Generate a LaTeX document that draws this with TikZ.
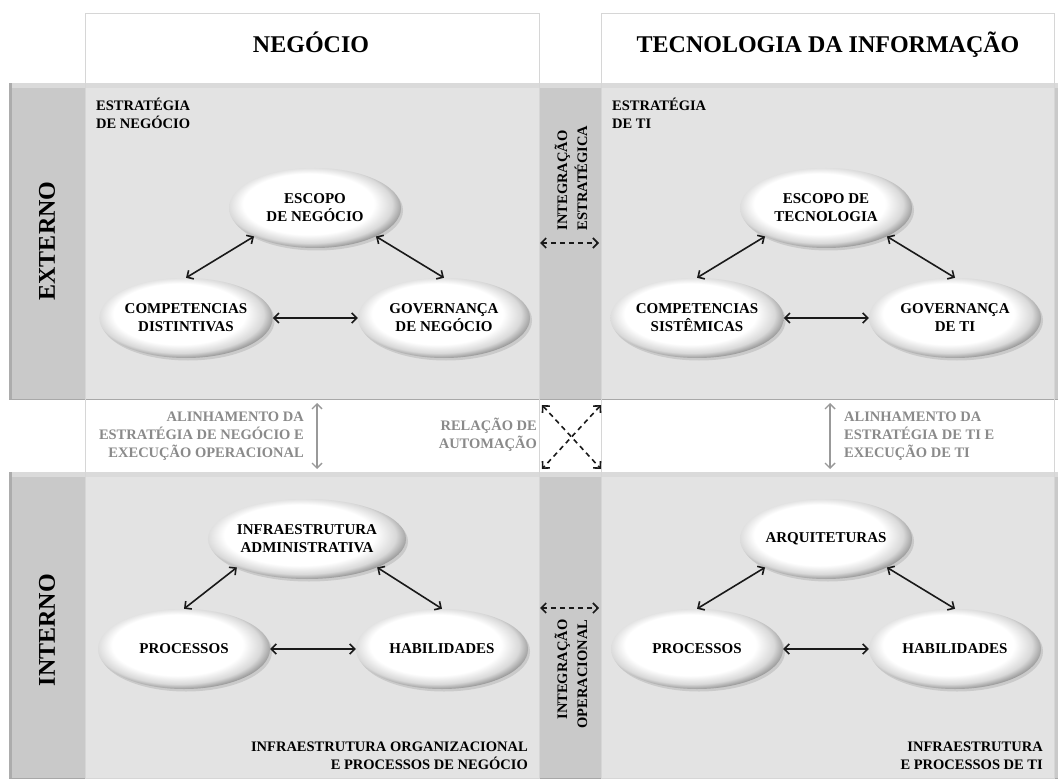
\documentclass[tikz,border=0pt]{standalone}
\usepackage{fontspec}
\setmainfont{Liberation Serif}
\usetikzlibrary{shapes.geometric,shadows,arrows.meta}
\definecolor{bandgray}{HTML}{C9C9C9}
\definecolor{bandtop}{HTML}{DADADA}
\definecolor{bandedge}{HTML}{ACACAC}
\definecolor{banddark}{HTML}{A8A8A8}
\definecolor{colgray}{HTML}{E3E3E3}
\definecolor{txtgray}{HTML}{8A8A8A}
\definecolor{linegray}{HTML}{D6D6D6}
\pgfdeclareradialshading{ellshade}{\pgfpoint{-3bp}{4bp}}{color(0bp)=(white); color(19bp)=(white); color(24bp)=(black!15); color(27bp)=(black!40); color(50bp)=(black!40)}
\begin{document}
\begin{tikzpicture}[x=1pt,y=-1pt,
  ell/.style={ellipse, minimum width=172pt, minimum height=80pt, inner sep=0pt, align=center,
    font=\fontsize{15}{18}\selectfont\bfseries, shading=ellshade,
    drop shadow={shadow xshift=2pt, shadow yshift=-2.5pt, opacity=0.25}},
  title/.style={font=\fontsize{24}{28}\selectfont\bfseries, inner sep=0pt, anchor=base},
  side/.style={font=\fontsize{24}{28}\selectfont\bfseries, inner sep=0pt, rotate=90},
  lbl/.style={font=\fontsize{14.5}{18}\selectfont\bfseries, inner sep=0pt},
  glbl/.style={lbl, text=txtgray},
  vlbl/.style={font=\fontsize{14.5}{20}\selectfont\bfseries, inner sep=0pt, rotate=90},
  dbl/.style={{Straight Barb[length=5pt,width=10pt]}-{Straight Barb[length=5pt,width=10pt]}, line width=1.6pt, draw=black!90},
  dbldash/.style={dbl, dash pattern=on 5pt off 4pt},
  gdbl/.style={dbl, draw=gray!80, line width=1.4pt}
]
\useasboundingbox (0,0) rectangle (1059,783);
\fill[white] (0,0) rectangle (1059,783);
% bands
\foreach \ya/\yb in {83/400, 472/779} {
  \fill[bandgray] (9,\ya) rectangle (1058,\yb);
  \fill[bandtop] (9,\ya) rectangle (1058,\ya+5);
  \fill[bandedge] (9,\ya) rectangle (12,\yb);
  \fill[colgray] (85,\ya+5) rectangle (539,\yb-1.5);
  \fill[colgray] (601,\ya+5) rectangle (1054,\yb-1.5);
  \draw[banddark, line width=1.5pt] (9,\yb-0.75) -- (1058,\yb-0.75);
}
% column frames
\draw[linegray, line width=1pt] (85,14) rectangle (539,778);
\draw[linegray, line width=1pt] (601,14) rectangle (1054,778);

% titles
\node[title] (tneg) at (311,53) {NEGÓCIO};
\node[title] (tti) at (828,53) {TECNOLOGIA DA INFORMAÇÃO};
\node[side] (text) at (47,241) {EXTERNO};
\node[side] (tint) at (47,630) {INTERNO};

% corner labels
\node[lbl, anchor=north west, align=left] (lestn) at (96,98) {ESTRATÉGIA\\DE NEGÓCIO};
\node[lbl, anchor=north west, align=left] (lestt) at (612,98) {ESTRATÉGIA\\DE TI};
\node[lbl, anchor=south east, align=right] (linfn) at (528,770) {INFRAESTRUTURA ORGANIZACIONAL\\E PROCESSOS DE NEGÓCIO};
\node[lbl, anchor=south east, align=right] (linft) at (1043,770) {INFRAESTRUTURA\\E PROCESSOS DE TI};

% ellipses externo
\node[ell] (esc) at (315,208) {ESCOPO\\DE NEGÓCIO};
\node[ell] (comp) at (186,318) {COMPETENCIAS\\DISTINTIVAS};
\node[ell] (gov) at (444,318) {GOVERNANÇA\\DE NEGÓCIO};
\node[ell] (esct) at (826,208) {ESCOPO DE\\TECNOLOGIA};
\node[ell] (compt) at (697,318) {COMPETENCIAS\\SISTÊMICAS};
\node[ell] (govt) at (955,318) {GOVERNANÇA\\DE TI};
% ellipses interno
\node[ell] (infra) at (307,539) {INFRAESTRUTURA\\ADMINISTRATIVA};
\node[ell] (proc) at (184,649) {PROCESSOS};
\node[ell] (hab) at (442,649) {HABILIDADES};
\node[ell] (arq) at (826,539) {ARQUITETURAS};
\node[ell] (proct) at (697,649) {PROCESSOS};
\node[ell] (habt) at (955,649) {HABILIDADES};

% triangle arrows
\draw[dbl] (esc.south west) -- (comp.north);
\draw[dbl] (esc.south east) -- (gov.north);
\draw[dbl] (comp.east) -- (gov.west);
\draw[dbl] (esct.south west) -- (compt.north);
\draw[dbl] (esct.south east) -- (govt.north);
\draw[dbl] (compt.east) -- (govt.west);
\draw[dbl] (infra.south west) -- (proc.north);
\draw[dbl] (infra.south east) -- (hab.north);
\draw[dbl] (proc.east) -- (hab.west);
\draw[dbl] (arq.south west) -- (proct.north);
\draw[dbl] (arq.south east) -- (habt.north);
\draw[dbl] (proct.east) -- (habt.west);

% integration labels
\node[vlbl, align=left] (lie) at (571,178) {INTEGRAÇÃO\\ESTRATÉGICA};
\node[vlbl, align=right] (lio) at (571,674) {INTEGRAÇÃO\\OPERACIONAL};
\coordinate (ie1) at (540,243); \coordinate (ie2) at (599,243);
\coordinate (io1) at (540,608); \coordinate (io2) at (599,608);
\draw[dbldash] (ie1) -- (ie2);
\draw[dbldash] (io1) -- (io2);

% automation cross
\coordinate (c1) at (542,405); \coordinate (c2) at (601,405);
\coordinate (c3) at (542,469); \coordinate (c4) at (601,469);
\draw[dbldash] (c1) -- (c4);
\draw[dbldash] (c2) -- (c3);
\node[glbl, anchor=east, align=right] (lrel) at (537,434.5) {RELAÇÃO DE\\AUTOMAÇÃO};

% alignment
\node[glbl, anchor=east, align=right] (lan) at (304,436.5) {ALINHAMENTO DA\\ESTRATÉGIA DE NEGÓCIO E\\EXECUÇÃO OPERACIONAL};
\coordinate (an1) at (317,403); \coordinate (an2) at (317,469);
\draw[gdbl] (an1) -- (an2);
\node[glbl, anchor=west, align=left] (lat) at (844,436.5) {ALINHAMENTO DA\\ESTRATÉGIA DE TI E\\EXECUÇÃO DE TI};
\coordinate (at1) at (830,403); \coordinate (at2) at (830,469);
\draw[gdbl] (at1) -- (at2);
\end{tikzpicture}
\end{document}
